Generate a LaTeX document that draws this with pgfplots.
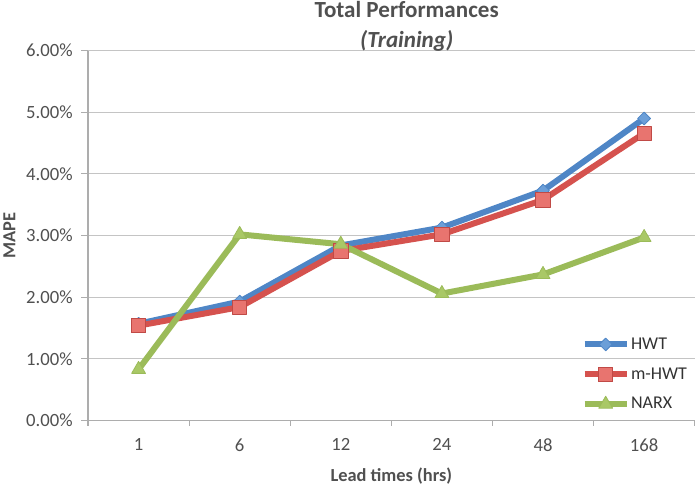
\documentclass[border=0pt]{standalone}
\usepackage{fontspec}
\setmainfont{Carlito}
\usepackage{pgfplots}
\pgfplotsset{compat=1.18}

\definecolor{hwtline}{HTML}{4F86C6}
\definecolor{hwtmark}{HTML}{6C9FD8}
\definecolor{mhwtline}{HTML}{D5524E}
\definecolor{mhwtmark}{HTML}{E8746F}
\definecolor{narxline}{HTML}{9BBB59}
\definecolor{narxmark}{HTML}{A9C866}
\definecolor{gridgray}{HTML}{C4C4C4}
\definecolor{axisgray}{HTML}{ADADAD}
\definecolor{labelgray}{HTML}{505050}

% MAPE (in percent) per lead time
\pgfplotstableread{
idx hwt  mhwt narx
0   1.57 1.54 0.83
1   1.93 1.84 3.02
2   2.84 2.75 2.86
3   3.13 3.02 2.06
4   3.73 3.58 2.37
5   4.90 4.66 2.97
}\mapedata

\begin{document}
\begin{tikzpicture}
\begin{axis}[
  at={(0,0)}, anchor=south west,
  scale only axis,
  width=455pt, height=277.4pt,
  xmin=-0.5, xmax=5.5,
  ymin=0, ymax=6,
  axis lines*=left,
  axis line style={-, draw=axisgray, line width=0.8pt},
  xtick={0,...,5},
  xticklabels={1,6,12,24,48,168},
  major x tick style={draw=none},
  minor xtick={-0.5,0.5,...,5.5},
  minor x tick style={draw=axisgray, line width=0.8pt},
  minor tick length=4pt,
  ytick={0,1,...,6},
  yticklabels={0.00\%,1.00\%,2.00\%,3.00\%,4.00\%,5.00\%,6.00\%},
  major y tick style={draw=axisgray, line width=0.8pt},
  major tick length=5pt,
  tick align=outside,
  ymajorgrids,
  grid style={gridgray, line width=0.8pt},
  tick label style={font=\fontsize{14}{16}\selectfont, text=labelgray},
  xticklabel style={yshift=-5pt},
  yticklabel style={xshift=-3pt},
  xlabel={Lead times (hrs)},
  ylabel={MAPE},
  label style={font=\fontsize{13.8}{16}\selectfont\bfseries, text=labelgray},
  xlabel style={at={([yshift=-41.5pt]axis description cs:0.5,0)}, anchor=center},
  ylabel style={at={([xshift=-59pt]axis description cs:0,0.5)}, anchor=center},
  legend style={at={(axis cs:4.38,1.37)}, anchor=north west,
    draw=none, fill=none, inner sep=0pt,
    font=\fontsize{13.5}{15}\selectfont, text=black!80,
    row sep=10.25pt, nodes={inner sep=1pt}},
  legend cell align=left,
  legend image code/.code={%
    \draw[#1, mark repeat=2, mark phase=2]
      plot coordinates {(0pt,0pt) (15.75pt,0pt) (31.5pt,0pt)};},
  clip=false,
]
\addplot[hwtline, line width=4.5pt, line join=round,
  mark=square*, mark size=3.4pt,
  mark options={rotate=45, fill=hwtmark, draw=hwtline, line width=0.6pt}]
  table[x=idx, y=hwt] {\mapedata};
\addlegendentry{HWT}
\addplot[mhwtline, line width=4.5pt, line join=round,
  mark=square*, mark size=5.4pt,
  mark options={fill=mhwtmark, draw=mhwtline!90!black, line width=0.6pt}]
  table[x=idx, y=mhwt] {\mapedata};
\addlegendentry{m-HWT}
\addplot[narxline, line width=4.5pt, line join=round,
  mark=triangle*, mark size=6pt,
  mark options={fill=narxmark, draw=narxline, line width=0.6pt}]
  table[x=idx, y=narx] {\mapedata};
\addlegendentry{NARX}
\end{axis}
% chart title
\node[anchor=base, font=\fontsize{17.3}{20}\selectfont\bfseries, text=labelgray]
  at (239pt,302pt) {Total Performances};
\node[anchor=base, font=\fontsize{17.3}{20}\selectfont\bfseries\itshape, text=labelgray]
  at (239pt,280pt) {(Training)};
\pgfresetboundingbox
\useasboundingbox (-66pt,-47.6pt) rectangle (457.5pt,315.4pt);
\end{tikzpicture}
\end{document}
